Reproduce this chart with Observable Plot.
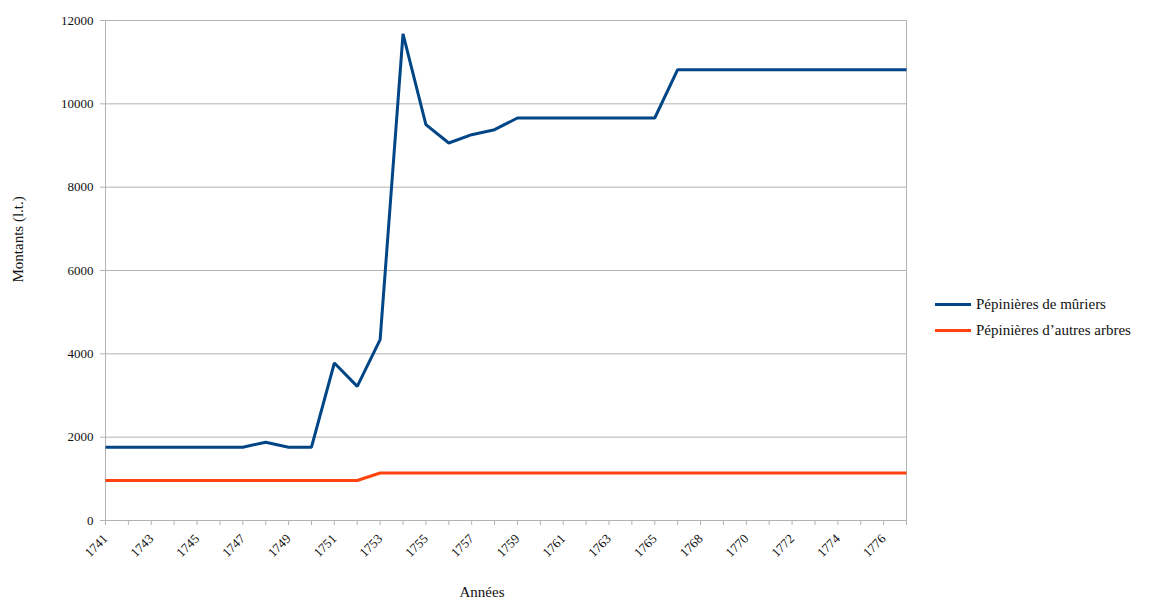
<!DOCTYPE html>
<html>
<head>
<meta charset="utf-8">
<script src="https://cdn.jsdelivr.net/npm/d3@7"></script>
<script src="https://cdn.jsdelivr.net/npm/@observablehq/plot@0.6"></script>
<style>
  body { margin: 0; background: #fff; }
  #wrap { position: relative; width: 1163px; height: 601px; font-family: "Liberation Serif", "DejaVu Serif", serif; }
  #legend { position: absolute; left: 935px; top: 291px; font-size: 15px; color: #111; }
  .item { display: flex; align-items: center; height: 26px; }
  .swatch { width: 36px; height: 3px; margin-right: 5px; }
</style>
</head>
<body>
<div id="wrap"><div id="legend"></div></div>
<script>
const years = [1741,1742,1743,1744,1745,1746,1747,1748,1749,1750,1751,1752,1753,1754,1755,1756,1757,1758,1759,1760,1761,1762,1763,1764,1765,1766,1768,1769,1770,1771,1772,1773,1774,1775,1776,1777];
const muriers = [1760,1760,1760,1760,1760,1760,1760,1880,1760,1760,3780,3220,4340,11680,9500,9060,9260,9380,9660,9660,9660,9660,9660,9660,9660,10820,10820,10820,10820,10820,10820,10820,10820,10820,10820,10820];
const autres = [960,960,960,960,960,960,960,960,960,960,960,960,1140,1140,1140,1140,1140,1140,1140,1140,1140,1140,1140,1140,1140,1140,1140,1140,1140,1140,1140,1140,1140,1140,1140,1140];
const seriesNames = ["Pépinières de mûriers", "Pépinières d’autres arbres"];
const seriesColors = ["#004586", "#ff420e"];
const yTicks = [0,2000,4000,6000,8000,10000,12000];
const xTitle = "Années";
const yTitle = "Montants (l.t.)";

const rows = [];
years.forEach((y, i) => {
  rows.push({year: y, value: muriers[i], series: seriesNames[0]});
  rows.push({year: y, value: autres[i], series: seriesNames[1]});
});

const chart = Plot.plot({
  width: 1163,
  height: 601,
  marginLeft: 105,
  marginRight: 257,
  marginTop: 20,
  marginBottom: 81,
  style: {fontFamily: '"Liberation Serif", "DejaVu Serif", serif', fontSize: "13px", color: "#111", background: "#fff"},
  x: {type: "point", domain: years, padding: 0},
  y: {domain: [0, 12000]},
  color: {domain: seriesNames, range: seriesColors},
  marks: [
    Plot.gridY(yTicks, {stroke: "#b3b3b3", strokeOpacity: 1}),
    Plot.frame({stroke: "#b3b3b3"}),
    Plot.axisY({ticks: yTicks, tickSize: 5, tickPadding: 7, stroke: "#b3b3b3", label: null, fontSize: 13, tickFormat: d => String(d)}),
    Plot.axisX({ticks: years, tickSize: 5, tickPadding: 11, tickRotate: -45, stroke: "#b3b3b3", label: null, fontSize: 13,
      tickFormat: d => (years.indexOf(d) % 2 === 0 ? String(d) : "")}),
    Plot.line(rows, {x: "year", y: "value", z: "series", stroke: "series", strokeWidth: 3, strokeLinejoin: "miter", strokeLinecap: "butt"}),
    Plot.text([xTitle], {frameAnchor: "bottom", dx: -24, dy: 76, fontSize: 15, fill: "#111"}),
    Plot.text([yTitle], {frameAnchor: "left", rotate: -90, dx: -87, dy: 12, fontSize: 15, fill: "#111"})
  ]
});
const wrap = document.getElementById("wrap");
wrap.insertBefore(chart, wrap.firstChild);

const legend = document.getElementById("legend");
seriesNames.forEach((n, i) => {
  const it = document.createElement("div");
  it.className = "item";
  const sw = document.createElement("div");
  sw.className = "swatch";
  sw.style.background = seriesColors[i];
  const t = document.createElement("span");
  t.textContent = n;
  it.appendChild(sw); it.appendChild(t);
  legend.appendChild(it);
});
</script>
</body>
</html>
